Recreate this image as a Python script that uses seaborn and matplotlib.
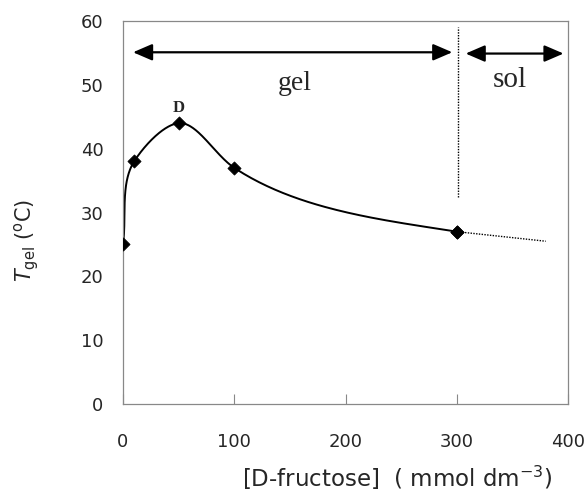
import numpy as np
import matplotlib
matplotlib.use("Agg")
import matplotlib.pyplot as plt
import seaborn as sns
import pandas as pd

# data
conc = [0, 10, 50, 100, 300]
tgel = [25, 38, 44, 37, 27]
ext_x = [300, 380]
ext_y = [27, 25.5]
phase_border_x = 301
phase_border_y = [32.5, 59]
xticks = [0, 100, 200, 300, 400]
yticks = [0, 10, 20, 30, 40, 50, 60]

sns.set_theme(style="white")
plt.rcParams['font.family'] = ['DejaVu Sans']
plt.rcParams['mathtext.fontset'] = 'dejavusans'

fig = plt.figure(figsize=(5.87, 4.91), dpi=100)
ax = fig.add_axes([123/587, 1-404/491, 445/587, 383/491])
ax.set_xlim(0, 400)
ax.set_ylim(0, 60)

# smooth curve through the points: chord-length Catmull-Rom (Bezier form) in pixel space
sx, sy = 445/400, 383/60
allx = conc + [ext_x[1]]
ally = tgel + [ext_y[1]]
P = np.column_stack([np.array(allx)*sx, np.array(ally)*sy])
n = len(P)

def tangent(i):
    if i == 0:
        d = P[1] - P[0]
        return d / np.linalg.norm(d)
    if i == n - 1:
        d = P[-1] - P[-2]
        return d / np.linalg.norm(d)
    a = P[i] - P[i-1]; b = P[i+1] - P[i]
    la = np.linalg.norm(a); lb = np.linalg.norm(b)
    return a/la * lb/(la+lb) + b/lb * la/(la+lb)

pts = []
for i in range(len(conc) - 1):
    p1 = P[i]; p2 = P[i+1]
    L = np.linalg.norm(p2 - p1)
    c1 = p1 + tangent(i) * L / 3
    c2 = p2 - tangent(i+1) * L / 3
    t = np.linspace(0, 1, 80)[:, None]
    b = (1-t)**3*p1 + 3*(1-t)**2*t*c1 + 3*(1-t)*t**2*c2 + t**3*p2
    pts.append(b if i == 0 else b[1:])
curve = np.vstack(pts)
curve_df = pd.DataFrame({"x": curve[:, 0]/sx, "y": curve[:, 1]/sy})
sns.lineplot(data=curve_df, x="x", y="y", sort=False, color="black", lw=1.4, ax=ax)

sns.lineplot(x=ext_x, y=ext_y, color="black", lw=1.0, linestyle=(0, (1, 1)), ax=ax)
ax.plot([phase_border_x, phase_border_x], phase_border_y, color="black", lw=1.0, linestyle=(0, (1, 1)))

sns.scatterplot(x=conc + [ext_x[0]], y=tgel + [ext_y[0]], marker="D", s=45, color="black",
                edgecolor="black", zorder=5, ax=ax)

# arrows
ax.annotate("", xy=(9, 55.1), xytext=(296, 55.1),
            arrowprops=dict(arrowstyle="<|-|>,head_length=0.65,head_width=0.28", color="black", lw=1.6,
                            mutation_scale=18, shrinkA=0, shrinkB=0))
ax.annotate("", xy=(308, 54.9), xytext=(396, 54.9),
            arrowprops=dict(arrowstyle="<|-|>,head_length=0.65,head_width=0.28", color="black", lw=1.6,
                            mutation_scale=18, shrinkA=0, shrinkB=0))
ax.text(154, 49.2, "gel", family="Liberation Serif", fontsize=20, ha="center", va="baseline")
ax.text(347.5, 49.6, "sol", family="Liberation Serif", fontsize=21, ha="center", va="baseline")
ax.text(50, 46.4, "D", family="Liberation Serif", fontsize=12, fontweight="bold", ha="center", va="center")

ax.set_xticks(xticks)
ax.set_yticks(yticks)
ax.tick_params(axis="x", direction="in", length=7, width=0.8, color="#888888", pad=21, labelsize=13, bottom=True)
ax.tick_params(axis="y", length=0, pad=14, labelsize=13, left=False)
for s in ax.spines.values():
    s.set_color("#888888")
    s.set_linewidth(0.9)
    s.set_visible(True)

ax.set_xlabel(r"[D-fructose]  ( mmol dm$^{\mathregular{-3}}$)", fontsize=16.5, va="center")
ax.xaxis.set_label_coords(0.617, -0.193)
ax.set_ylabel(r"$\mathit{T}_{\mathregular{gel}}$ ($^{\mathregular{o}}$C)", fontsize=15, va="center")
ax.yaxis.set_label_coords(-0.216, 0.428)

fig.savefig("out.png", dpi=100)
